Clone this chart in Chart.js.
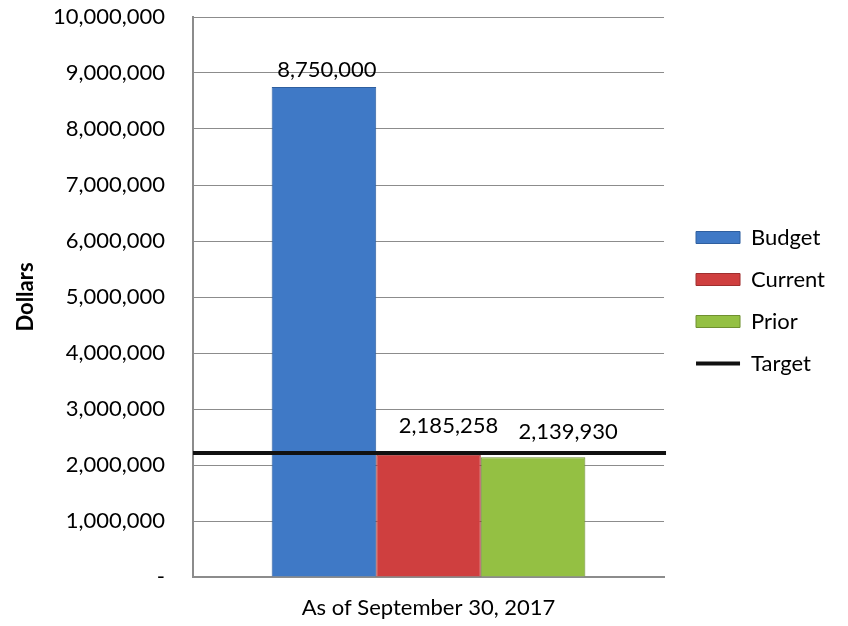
<!DOCTYPE html>
<html>
<head>
<meta charset="utf-8">
<script src="https://cdn.jsdelivr.net/npm/chart.js@4"></script>
<style>
    html, body { margin: 0; padding: 0; background: #fff; }
    #wrap { width: 848px; height: 626px; }
</style>
</head>
<body>
<div id="wrap"><canvas id="budget-chart" width="848" height="626"></canvas></div>
<script>
// Chart data
const categories = ['As of September 30, 2017'];
const seriesNames = ['Budget', 'Current', 'Prior', 'Target'];
const budgetValues = [8750000];
const currentValues = [2185258];
const priorValues = [2139930];
const targetValue = 2214000;
const yTicks = [0, 1000000, 2000000, 3000000, 4000000, 5000000, 6000000, 7000000, 8000000, 9000000, 10000000];

const fontFamily = 'Lato, "Open Sans", sans-serif';

// Label offsets (Excel nudged the labels a bit)
const labelShift = [
    { dx: 3, dy: 10 },
    { dx: 20, dy: 22 },
    { dx: 35, dy: 18 },
];

// Draw value labels above the bars
const valueLabels = {
    id: 'valueLabels',
    afterDatasetsDraw(chart) {
        const ctx = chart.ctx;
        ctx.save();
        ctx.font = '22px ' + fontFamily;
        ctx.fillStyle = '#000';
        ctx.textAlign = 'center';
        ctx.textBaseline = 'alphabetic';
        [0, 1, 2].forEach((di) => {
            const meta = chart.getDatasetMeta(di);
            meta.data.forEach((bar, i) => {
                const v = chart.data.datasets[di].data[i];
                const p = bar.getProps(['x', 'y'], true);
                ctx.fillText(v.toLocaleString('en-US'), p.x + labelShift[di].dx, p.y - labelShift[di].dy);
            });
        });
        ctx.restore();
    },
};

// Horizontal target line across the plot
const targetLine = {
    id: 'targetLine',
    afterDatasetsDraw(chart) {
        const ctx = chart.ctx;
        const area = chart.chartArea;
        const y = chart.scales.y.getPixelForValue(targetValue);
        ctx.save();
        ctx.strokeStyle = '#111';
        ctx.lineWidth = 4;
        ctx.beginPath();
        ctx.moveTo(area.left, y);
        ctx.lineTo(area.right + 2, y);
        ctx.stroke();
        ctx.restore();
    },
};

// Legend sits a bit further from the plot and higher up
const legendGap = {
    id: 'legendGap',
    beforeUpdate(chart) {
        const lg = chart.legend;
        if (lg && !lg._gapPatched) {
            const fit = lg.fit.bind(lg);
            lg.fit = function () {
                fit();
                this.width += 25;
            };
            lg._gapPatched = true;
        }
    },
    afterLayout(chart) {
        const lg = chart.legend;
        lg.left += 12;
        lg.right += 12;
        lg.top -= 21;
        lg.bottom -= 21;
    },
};

const ctx = document.getElementById('budget-chart').getContext('2d');
new Chart(ctx, {
    type: 'bar',
    data: {
        labels: categories,
        datasets: [
            {
                label: seriesNames[0],
                data: budgetValues,
                backgroundColor: '#3f79c6',
                borderColor: '#2f5f9f',
                borderWidth: 1,
                pointStyle: 'rect',
            },
            {
                label: seriesNames[1],
                data: currentValues,
                backgroundColor: '#cf3f3f',
                borderColor: '#9f2f2f',
                borderWidth: 1,
                pointStyle: 'rect',
            },
            {
                label: seriesNames[2],
                data: priorValues,
                backgroundColor: '#94c043',
                borderColor: '#6f9030',
                borderWidth: 1,
                pointStyle: 'rect',
            },
            {
                type: 'line',
                label: seriesNames[3],
                data: [],
                borderColor: '#111',
                backgroundColor: '#111',
                borderWidth: 4,
                pointRadius: 0,
                pointStyle: 'line',
            },
        ],
    },
    options: {
        responsive: false,
        animation: false,
        layout: { padding: { top: 17, right: 0, bottom: 0, left: 0 } },
        plugins: {
            legend: {
                position: 'right',
                labels: {
                    usePointStyle: true,
                    pointStyleWidth: 44,
                    boxHeight: 12,
                    padding: 20,
                    color: '#000',
                    font: { family: fontFamily, size: 22 },
                },
            },
            tooltip: { enabled: false },
        },
        scales: {
            x: {
                grid: { display: false, drawTicks: false },
                border: { display: true, color: '#8c8c8c', width: 2 },
                ticks: { color: '#000', padding: 18, font: { family: fontFamily, size: 22 } },
                afterFit: (scale) => { scale.height = 49; },
            },
            y: {
                min: 0,
                max: 10000000,
                afterBuildTicks: (scale) => { scale.ticks = yTicks.map((v) => ({ value: v })); },
                grid: { color: '#8c8c8c', drawTicks: false },
                border: { display: true, color: '#8c8c8c', width: 2 },
                ticks: {
                    color: '#000',
                    padding: 28,
                    font: { family: fontFamily, size: 22 },
                    callback: (v) => (v === 0 ? '-' : v.toLocaleString('en-US')),
                },
                title: {
                    display: true,
                    text: 'Dollars',
                    color: '#000',
                    padding: { top: 13, bottom: 4 },
                    font: { family: fontFamily, size: 22, weight: 'bold' },
                },
                afterFit: (scale) => {
                    scale.width = 193;
                    scale.paddingTop = 0;
                    scale.paddingBottom = 0;
                },
            },
        },
        datasets: {
            bar: { categoryPercentage: 0.666, barPercentage: 1.0 },
        },
    },
    plugins: [valueLabels, targetLine, legendGap],
});
</script>
</body>
</html>
